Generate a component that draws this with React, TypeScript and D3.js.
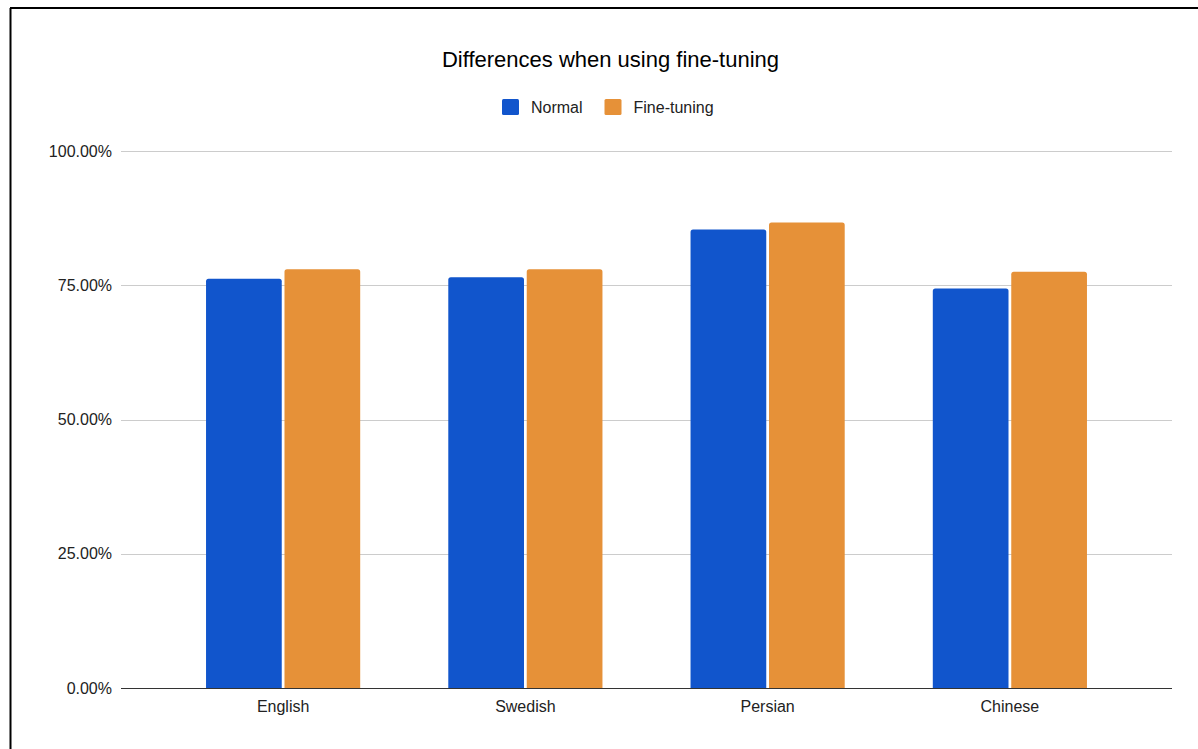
import React, { useEffect } from "react";
import * as d3 from "d3";

const W = 1198;
const H = 749;

const categories = ["English", "Swedish", "Persian", "Chinese"];
const seriesNames = ["Normal", "Fine-tuning"];
const normalValues = [0.762, 0.765, 0.854, 0.744];
const fineTuningValues = [0.780, 0.780, 0.867, 0.775];
const yTicks = [0, 0.25, 0.5, 0.75, 1];
const colors = ["#1155cc", "#e69138"];

const FONT = "'Liberation Sans', Arial, sans-serif";

export default function App() {
  useEffect(() => {
    document.body.style.margin = "0";
  }, []);

  const plot = { left: 121, right: 1172, top: 151, bottom: 688 };
  const y = d3.scaleLinear().domain([0, 1]).range([plot.bottom, plot.top]);
  const x0 = d3
    .scaleBand<string>()
    .domain(categories)
    .range([plot.left, plot.right])
    .paddingInner(0.3636)
    .paddingOuter(0.351);
  const x1 = d3
    .scaleBand<string>()
    .domain(seriesNames)
    .range([0, x0.bandwidth()])
    .paddingInner(0.035);
  const fmt = d3.format(".2%");

  const series = [normalValues, fineTuningValues];

  const barPath = (x: number, yTop: number, w: number, yBot: number, r: number) => {
    const p = d3.path();
    p.moveTo(x, yBot);
    p.lineTo(x, yTop + r);
    p.quadraticCurveTo(x, yTop, x + r, yTop);
    p.lineTo(x + w - r, yTop);
    p.quadraticCurveTo(x + w, yTop, x + w, yTop + r);
    p.lineTo(x + w, yBot);
    p.closePath();
    return p.toString();
  };

  return (
    <svg
      width={W}
      height={H}
      style={{ position: "absolute", left: 0, top: 0, display: "block", background: "#fff" }}
      fontFamily={FONT}
    >
      <rect x={0} y={0} width={W} height={H} fill="#fff" />
      {/* frame edges */}
      <line x1={10} y1={8} x2={W} y2={8} stroke="#000" strokeWidth={2} />
      <line x1={10.5} y1={8} x2={10.5} y2={H} stroke="#000" strokeWidth={2} />

      <text x={610.5} y={67} textAnchor="middle" fontSize={22} fill="#000">
        Differences when using fine-tuning
      </text>

      {/* legend */}
      <g>
        <rect x={502} y={99} width={17} height={16} rx={1.5} fill={colors[0]} />
        <text x={531} y={113} fontSize={16} fill="#222">{seriesNames[0]}</text>
        <rect x={604.5} y={99} width={17} height={16} rx={1.5} fill={colors[1]} />
        <text x={633.5} y={113} fontSize={16} fill="#222">{seriesNames[1]}</text>
      </g>

      {/* gridlines and y labels */}
      {yTicks.map((t) => (
        <g key={t}>
          {t > 0 && (
            <line
              x1={plot.left}
              x2={plot.right}
              y1={Math.round(y(t)) + 0.5}
              y2={Math.round(y(t)) + 0.5}
              stroke="#cccccc"
              strokeWidth={1}
            />
          )}
          <text x={112} y={y(t) + 5.5} textAnchor="end" fontSize={16} fill="#222">
            {fmt(t)}
          </text>
        </g>
      ))}

      {/* bars */}
      {categories.map((c, i) => (
        <g key={c} transform={`translate(${x0(c)},0)`}>
          {seriesNames.map((s, j) => (
            <path
              key={s}
              d={barPath(x1(s)!, y(series[j][i]), x1.bandwidth(), y(0), 2.5)}
              fill={colors[j]}
            />
          ))}
        </g>
      ))}

      {/* baseline */}
      <line
        x1={plot.left}
        x2={plot.right}
        y1={y(0) + 0.5}
        y2={y(0) + 0.5}
        stroke="#333"
        strokeWidth={1.2}
      />

      {/* category labels */}
      {categories.map((c) => (
        <text
          key={c}
          x={x0(c)! + x0.bandwidth() / 2}
          y={712}
          textAnchor="middle"
          fontSize={16}
          fill="#222"
        >
          {c}
        </text>
      ))}
    </svg>
  );
}
